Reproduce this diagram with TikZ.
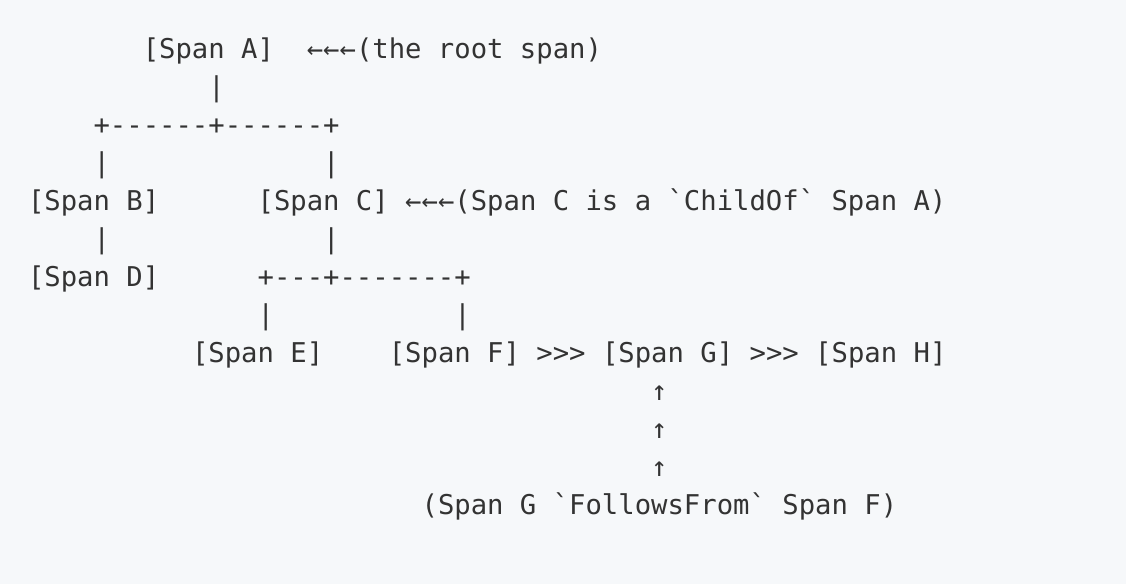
\documentclass[tikz,border=0pt]{standalone}
\usepackage{fontspec}
\setmonofont{DejaVu Sans Mono}
\definecolor{bg}{HTML}{F6F8FA}
\definecolor{ink}{HTML}{333333}
\def\cw{16.4}
\def\lh{38}
\def\xo{28}
\def\yo{58.7}
\tikzset{
  asc/.style={inner sep=0pt, outer sep=0pt, anchor=base west, text=ink,
    font=\ttfamily\fontsize{27.24}{38}\selectfont},
}
\newcommand\ascnode[4]{\node[asc] (#1) at ({\xo+#2*\cw},{-\yo-#3*\lh}) {#4};}
\begin{document}
\begin{tikzpicture}[x=1pt,y=1pt]
\useasboundingbox[fill=bg] (0,0) rectangle (1126,-584);
\ascnode{A}{7}{0}{[Span A]}
\ascnode{arrA}{17}{0}{←←←}
\ascnode{noteA}{20}{0}{(the root span)}
\ascnode{vA}{11}{1}{|}
\ascnode{brA}{4}{2}{+------+------+}
\ascnode{vB1}{4}{3}{|}
\ascnode{vC1}{18}{3}{|}
\ascnode{B}{0}{4}{[Span B]}
\ascnode{C}{14}{4}{[Span C]}
\ascnode{arrC}{23}{4}{←←←}
\ascnode{noteC}{26}{4}{(Span C is a \symbol{96}ChildOf\symbol{96} Span A)}
\ascnode{vD}{4}{5}{|}
\ascnode{vC2}{18}{5}{|}
\ascnode{D}{0}{6}{[Span D]}
\ascnode{brC}{14}{6}{+---+-------+}
\ascnode{vE}{14}{7}{|}
\ascnode{vF}{26}{7}{|}
\ascnode{E}{10}{8}{[Span E]}
\ascnode{F}{22}{8}{[Span F]}
\ascnode{fFG}{31}{8}{>>>}
\ascnode{G}{35}{8}{[Span G]}
\ascnode{fGH}{44}{8}{>>>}
\ascnode{H}{48}{8}{[Span H]}
\ascnode{up1}{38}{9}{↑}
\ascnode{up2}{38}{10}{↑}
\ascnode{up3}{38}{11}{↑}
\ascnode{noteG}{24}{12}{(Span G \symbol{96}FollowsFrom\symbol{96} Span F)}
\end{tikzpicture}
\end{document}
